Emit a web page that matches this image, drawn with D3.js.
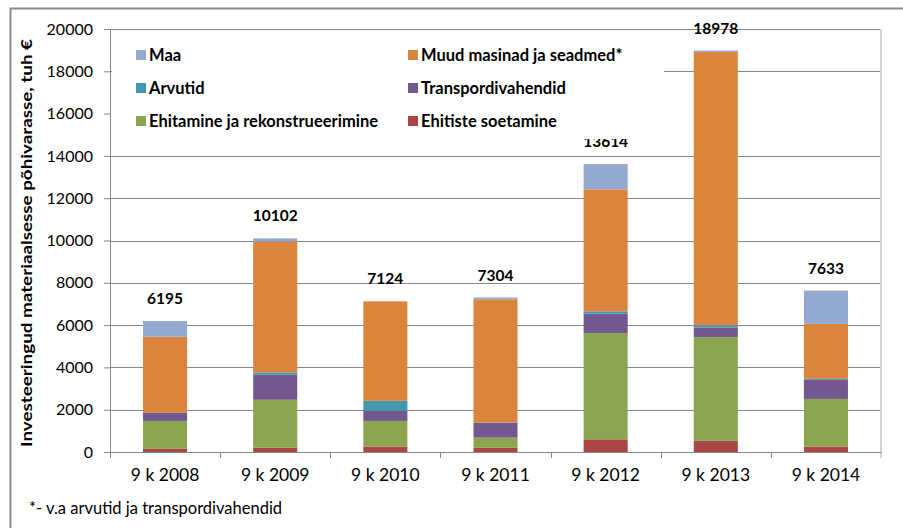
<!DOCTYPE html>
<html>
<head>
<meta charset="utf-8">
<script src="https://cdn.jsdelivr.net/npm/d3@7"></script>
<style>
  body { margin: 0; background: #fff; }
  svg { display: block; font-family: Lato, "Open Sans", sans-serif; }
</style>
</head>
<body>
<svg width="903" height="528"></svg>
<script>
// Categories and series (tuh €), bottom of the stack first
const categories = ["9 k 2008", "9 k 2009", "9 k 2010", "9 k 2011", "9 k 2012", "9 k 2013", "9 k 2014"];
const ehitisteSoetamine = [150, 210, 260, 200, 600, 530, 260];
const ehitamine = [1320, 2260, 1210, 480, 5020, 4900, 2250];
const transpordivahendid = [380, 1190, 480, 700, 920, 460, 900];
const arvutid = [0, 100, 470, 10, 110, 100, 50];
const muudMasinad = [3600, 6190, 4700, 5830, 5770, 12918, 2600];
const maa = [745, 152, 4, 84, 1194, 70, 1573];
const totals = [6195, 10102, 7124, 7304, 13614, 18978, 7633];

const yTicks = [0, 2000, 4000, 6000, 8000, 10000, 12000, 14000, 16000, 18000, 20000];
const gridValues = [2000, 4000, 6000, 8000, 10000, 12000, 14000, 18000, 20000];

const seriesNames = ["Ehitiste soetamine", "Ehitamine ja rekonstrueerimine", "Transpordivahendid",
    "Arvutid", "Muud masinad ja seadmed*", "Maa"];
const seriesValues = [ehitisteSoetamine, ehitamine, transpordivahendid, arvutid, muudMasinad, maa];
const seriesColors = ["#AA4643", "#89A54E", "#71588F", "#4198AF", "#DB843D", "#93A9CF"];
// legend reads row by row in two columns
const legendOrder = ["Maa", "Muud masinad ja seadmed*", "Arvutid", "Transpordivahendid",
    "Ehitamine ja rekonstrueerimine", "Ehitiste soetamine"];

const margin = { top: 29, right: 22, bottom: 76, left: 110 };
const width = 903, height = 528;
const plotW = width - margin.left - margin.right;
const plotH = height - margin.top - margin.bottom;

const svg = d3.select("svg");

// outer chart border
svg.append("path")
    .attr("d", "M10.5,530 L10.5,8.5 L905,8.5")
    .attr("fill", "none")
    .attr("stroke", "#8a8a8a")
    .attr("stroke-width", 2);

const g = svg.append("g").attr("transform", `translate(${margin.left},${margin.top})`);

const xScale = d3.scaleBand().domain(categories).range([0, plotW]).paddingInner(0.6).paddingOuter(0.3);
const yScale = d3.scaleLinear().domain([0, 20000]).range([plotH, 0]);

// gridlines
g.selectAll(".grid")
    .data(gridValues)
    .enter().append("line")
    .attr("x1", 0).attr("x2", plotW)
    .attr("y1", d => Math.round(yScale(d)) + 0.5)
    .attr("y2", d => Math.round(yScale(d)) + 0.5)
    .attr("stroke", "#868686");

// right plot border
g.append("line")
    .attr("x1", plotW).attr("x2", plotW)
    .attr("y1", 0).attr("y2", plotH + 6)
    .attr("stroke", "#d4d4d4").attr("stroke-width", 2);

// stacked bars
const table = categories.map((c, i) => {
    const row = { cat: c };
    seriesNames.forEach((s, j) => { row[s] = seriesValues[j][i]; });
    return row;
});
const stacked = d3.stack().keys(seriesNames)(table);

g.selectAll(".series")
    .data(stacked)
    .enter().append("g")
    .attr("fill", (d, i) => seriesColors[i])
    .selectAll("rect")
    .data(d => d)
    .enter().append("rect")
    .attr("x", d => xScale(d.data.cat))
    .attr("width", xScale.bandwidth())
    .attr("y", d => yScale(d[1]))
    .attr("height", d => yScale(d[0]) - yScale(d[1]));

// total labels
g.selectAll(".total")
    .data(totals)
    .enter().append("text")
    .attr("x", (d, i) => xScale(categories[i]) + xScale.bandwidth() / 2)
    .attr("y", d => yScale(d) - 17)
    .attr("text-anchor", "middle")
    .attr("font-weight", 700)
    .attr("font-size", "15.5px")
    .attr("fill", "#000")
    .text(d => d);

// legend (white box hides gridlines behind it)
const legend = svg.append("g");
legend.append("rect")
    .attr("x", 112).attr("y", 38)
    .attr("width", 552).attr("height", 101)
    .attr("fill", "#fff");
const legendItems = legend.selectAll(".item")
    .data(legendOrder)
    .enter().append("g")
    .attr("transform", (d, i) => `translate(${i % 2 === 0 ? 136 : 408},${50 + Math.floor(i / 2) * 33})`);
legendItems.append("rect")
    .attr("width", 10).attr("height", 10)
    .attr("fill", d => seriesColors[seriesNames.indexOf(d)]);
legendItems.append("text")
    .attr("x", 13).attr("y", 10.5)
    .attr("font-weight", 700)
    .attr("font-size", "16.5px")
    .text(d => d);

// y axis
const yAxis = g.append("g")
    .call(d3.axisLeft(yScale).tickValues(yTicks).tickSize(6).tickPadding(11).tickFormat(d3.format("d")));
yAxis.select(".domain").attr("stroke", "#868686");
yAxis.selectAll(".tick line").attr("stroke", "#868686");
yAxis.selectAll("text").attr("font-size", "16px").attr("fill", "#000").attr("font-family", "Lato");

// x axis
const xAxis = g.append("g")
    .attr("transform", `translate(0,${plotH})`)
    .call(d3.axisBottom(xScale).tickSize(0).tickPadding(17));
xAxis.select(".domain").attr("stroke", "#868686");
xAxis.selectAll("text").attr("font-size", "17.5px").attr("fill", "#000").attr("font-family", "Lato");
// category separators
const step = xScale.step();
xAxis.selectAll(".sep")
    .data(d3.range(categories.length))
    .enter().append("line")
    .attr("x1", i => Math.round(i * step) + 0.5)
    .attr("x2", i => Math.round(i * step) + 0.5)
    .attr("y1", 0).attr("y2", 6)
    .attr("stroke", "#868686");

// y axis title
svg.append("text")
    .attr("transform", "translate(32,243) rotate(-90)")
    .attr("text-anchor", "middle")
    .attr("font-weight", 700)
    .attr("font-size", "16px")
    .attr("textLength", 408)
    .attr("lengthAdjust", "spacingAndGlyphs")
    .text("Investeeringud materiaalsesse põhivarasse, tuh €");

// footnote
svg.append("text")
    .attr("x", 29).attr("y", 514)
    .attr("font-size", "16.5px")
    .text("*- v.a arvutid ja transpordivahendid");
</script>
</body>
</html>
